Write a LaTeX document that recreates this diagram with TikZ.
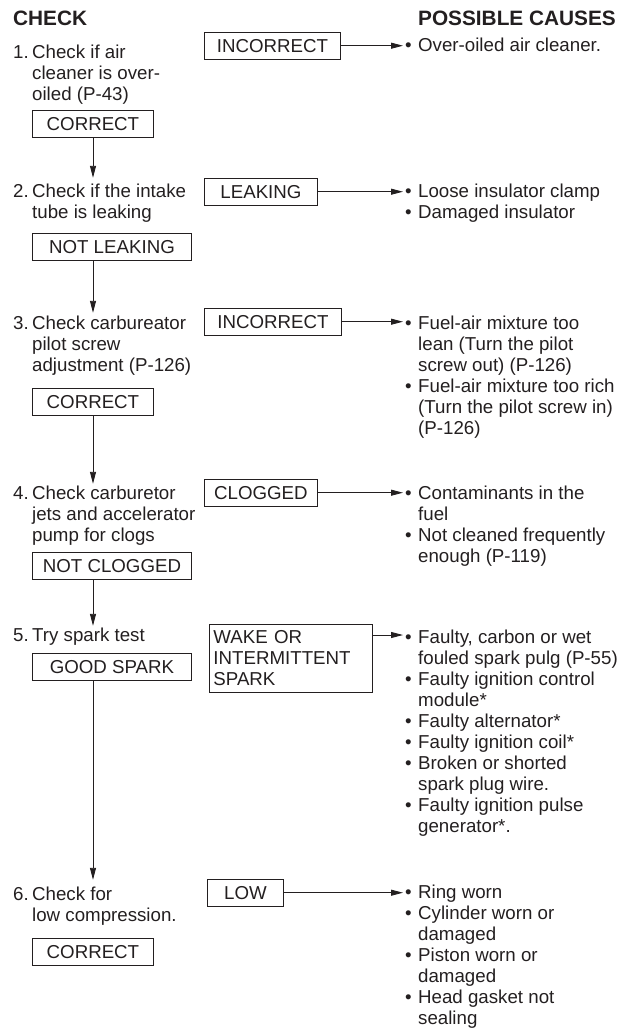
\documentclass[tikz,border=0pt]{standalone}
\usepackage{fontspec}
\setmainfont{Liberation Sans}
\usetikzlibrary{arrows.meta}
\definecolor{ink}{RGB}{35,31,32}
\newcommand\ChkText[2]{\begin{tabular}[t]{@{}p{19pt}@{}l@{}}#1&#2\end{tabular}}
\newcommand\CauseText[1]{\begin{tabular}[t]{@{}p{13pt}@{}l@{}}#1\end{tabular}}
\begin{document}
\begin{tikzpicture}[x=1pt,y=-1pt,
  every node/.style={inner sep=0pt, text=ink, font=\fontsize{18.7pt}{21pt}\selectfont},
  box/.style={draw=ink, line width=0.9pt, minimum height=26.5pt, anchor=north west, inner sep=0pt},
  chk/.style={anchor=base west, align=left},
  cause/.style={anchor=base west, align=left},
  head/.style={font=\fontsize{20.8pt}{24pt}\selectfont\bfseries},
  arr/.style={draw=ink, line width=0.9pt, -{Triangle[length=12pt,width=6pt]}},
]
\useasboundingbox (0,0) rectangle (622,1029);

\node[head, anchor=base west] (hc) at (13,25) {CHECK};
\node[head, anchor=base east] (hp) at (616,25) {POSSIBLE CAUSES};
\coordinate (ax) at (93,0);

% step 1
\node[chk] (s1) at (13,58) {\ChkText{1.}{Check if air\\&cleaner is over-\\&oiled (P-43)}};
\node[box, minimum width=136pt] (b1) at (204,32) {INCORRECT};
\node[cause] (c1) at (405,51) {\CauseText{\textbullet&Over-oiled air cleaner.}};
\node[box, minimum width=121pt] (ok1) at (32,110) {CORRECT};
\draw[arr, shorten >=2pt] (b1.east) -- (b1.east -| c1.west);

% step 2
\node[chk] (s2) at (13,197) {\ChkText{2.}{Check if the intake\\&tube is leaking}};
\node[box, minimum width=113pt] (b2) at (204,178) {LEAKING};
\node[cause] (c2) at (405,197) {\CauseText{\textbullet&Loose insulator clamp\\\textbullet&Damaged insulator}};
\node[box, minimum width=159pt] (nl) at (32,233) {NOT LEAKING};
\draw[arr, shorten >=4.3pt] (ok1.south -| ax) -- (ax |- s2.north);
\draw[arr, shorten >=2pt] (b2.east) -- (b2.east -| c2.west);

% step 3
\node[chk] (s3) at (13,329) {\ChkText{3.}{Check carbureator\\&pilot screw\\&adjustment (P-126)}};
\node[box, minimum width=137pt] (b3) at (204,308) {INCORRECT};
\node[cause] (c3) at (405,329) {\CauseText{\textbullet&Fuel-air mixture too\\&lean (Turn the pilot\\&screw out) (P-126)\\\textbullet&Fuel-air mixture too rich\\&(Turn the pilot screw in)\\&(P-126)}};
\node[box, minimum width=121pt] (ok3) at (32,388) {CORRECT};
\draw[arr, shorten >=1.3pt] (nl.south -| ax) -- (ax |- s3.north);
\draw[arr, shorten >=2pt] (b3.east) -- (b3.east -| c3.west);

% step 4
\node[chk] (s4) at (13,499) {\ChkText{4.}{Check carburetor\\&jets and accelerator\\&pump for clogs}};
\node[box, minimum width=113pt] (b4) at (204,479) {CLOGGED};
\node[cause] (c4) at (405,499) {\CauseText{\textbullet&Contaminants in the\\&fuel\\\textbullet&Not cleaned frequently\\&enough (P-119)}};
\node[box, minimum width=159pt] (nc) at (32,552) {NOT CLOGGED};
\draw[arr, shorten >=0.3pt] (ok3.south -| ax) -- (ax |- s4.north);
\draw[arr, shorten >=2pt] (b4.east) -- (b4.east -| c4.west);

% step 5
\node[chk] (s5) at (13,641) {\ChkText{5.}{Try spark test}};
\node[box, minimum width=163pt, minimum height=68pt, inner xsep=4pt, text width=155pt, align=left] (b5) at (209,624) {WAKE OR\\INTERMITTENT\\SPARK};
\node[cause] (c5) at (405,643) {\CauseText{\textbullet&Faulty, carbon or wet\\&fouled spark pulg (P-55)\\\textbullet&Faulty ignition control\\&module*\\\textbullet&Faulty alternator*\\\textbullet&Faulty ignition coil*\\\textbullet&Broken or shorted\\&spark plug wire.\\\textbullet&Faulty ignition pulse\\&generator*.}};
\node[box, minimum width=159pt] (gs) at (32,653) {GOOD SPARK};
\draw[arr, shorten >=0.3pt] (nc.south -| ax) -- (ax |- s5.north);
\draw[arr, shorten >=2pt] ([yshift=-11pt]b5.north east) -- ([yshift=-11pt]b5.north east -| c5.west);

% step 6
\node[chk] (s6) at (13,900) {\ChkText{6.}{Check for\\&low compression.}};
\node[box, minimum width=76pt] (b6) at (207,879) {LOW};
\node[cause] (c6) at (405,898) {\CauseText{\textbullet&Ring worn\\\textbullet&Cylinder worn or\\&damaged\\\textbullet&Piston worn or\\&damaged\\\textbullet&Head gasket not\\&sealing}};
\node[box, minimum width=121pt] (ok6) at (32,938) {CORRECT};
\draw[arr, shorten >=5.3pt] (gs.south -| ax) -- (ax |- s6.north);
\draw[arr, shorten >=2pt] (b6.east) -- (b6.east -| c6.west);
\end{tikzpicture}
\end{document}
